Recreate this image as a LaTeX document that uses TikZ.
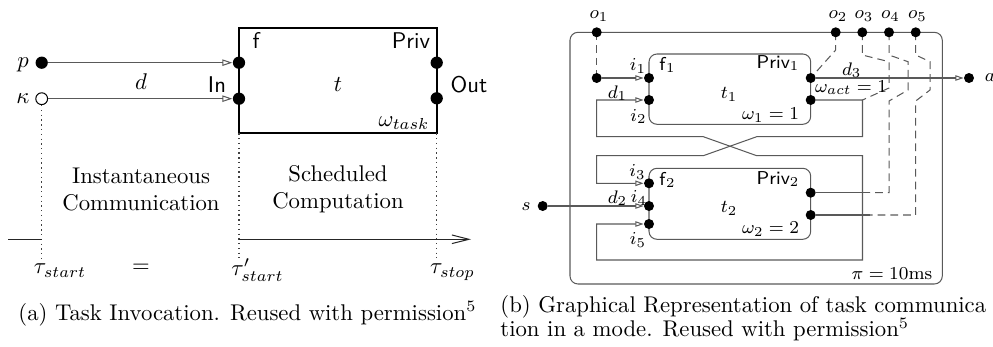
\documentclass[tikz,border=0pt]{standalone}
\usetikzlibrary{arrows.meta}
\begin{document}
\begin{tikzpicture}[x=0.44pt,y=-0.44pt,
  dotA/.style={circle,fill=black,inner sep=0pt,minimum size=5.4pt},
  odotA/.style={circle,draw=black,fill=white,inner sep=0pt,minimum size=5.2pt,line width=0.45pt},
  dotB/.style={circle,fill=black,inner sep=0pt,minimum size=4.4pt},
  conn/.style={draw=black!65,line width=0.45pt},
  tipA/.style={-{Triangle[open,length=4.4pt,width=2.8pt]}},
  tipB/.style={-{Triangle[open,length=3.6pt,width=2.4pt]}},
  dashl/.style={draw=black!65,line width=0.45pt,dash pattern=on 3.4pt off 2.2pt},
  dotl/.style={draw=black!75,line width=0.5pt,dash pattern=on 0.6pt off 1.5pt},
  lbl/.style={inner sep=0pt},
  small/.style={inner sep=0pt,font=\fontsize{8.2}{9.8}\selectfont},
  captext/.style={inner sep=0pt,anchor=base west},
]
\useasboundingbox (0,0) rectangle (993,347);

% ---------------- left panel ----------------
\draw[line width=0.9pt] (239,28.3) rectangle (436.7,133.3);
\node[dotA] (pA) at (41.7,62.7) {};
\node[odotA] (kA) at (41.7,98.7) {};
\node[dotA] (in1) at (239,62.7) {};
\node[dotA] (in2) at (239,98.7) {};
\node[dotA] (out1) at (436.7,62.7) {};
\node[dotA] (out2) at (436.7,98.3) {};
\draw[conn,tipA] (pA) -- (in1);
\draw[conn,tipA] (kA) -- (in2);

\node[lbl] (lp) at (23,65) {$p$};
\node[lbl] (lk) at (23,99) {$\kappa$};
\node[lbl] (lf) at (256.5,40.5) {\textsf{f}};
\node[lbl] (lpriv) at (411,41) {\textsf{Priv}};
\node[lbl] (lin) at (217,85) {\textsf{In}};
\node[lbl] (ld) at (141,82) {$d$};
\node[lbl] (lt) at (338,85) {$t$};
\node[lbl] (lout) at (469,85) {\textsf{Out}};
\node[lbl] (lw) at (404,123) {$\omega_{task}$};
\node[lbl,align=center] (lic) at (141,189.5) {Instantaneous\\Communication};
\node[lbl,align=center] (lsc) at (338,189.5) {Scheduled\\Computation};
\node[lbl] (lt1) at (60,270.5) {$\tau_{start}$};
\node[lbl] (leq) at (141,268) {$=$};
\node[lbl] (lt2) at (257.5,270) {$\tau'_{start}$};
\node[lbl] (lt3) at (452.5,272) {$\tau_{stop}$};

\coordinate (v1b) at (41.7,258);
\coordinate (v2t) at (239,133.3);
\coordinate (v2b) at (239,258);
\coordinate (v3t) at (436.7,133.3);
\coordinate (v3b) at (436.7,258);
\draw[dotl] (kA) -- (v1b);
\draw[dotl] (v2t) -- (v2b);
\draw[dotl] (v3t) -- (v3b);

\coordinate (tl0) at (8,239.3);
\coordinate (tl1) at (41.7,239.3);
\coordinate (tl2) at (239,239.3);
\coordinate (tl3) at (471,239.3);
\draw[draw=black!85,line width=0.45pt] (tl0) -- (tl1);
\draw[draw=black!85,line width=0.45pt,-{Straight Barb[length=7.5pt,width=3.8pt]}] (tl2) -- (tl3);

% ---------------- right panel ----------------
\draw[conn,rounded corners=3.5pt] (570,32.3) rectangle (942.3,284);
\draw[conn,rounded corners=3.5pt] (649,54) rectangle (810.7,124.3);
\draw[conn,rounded corners=3.5pt] (649,168.3) rectangle (810.7,239.3);

\coordinate (cA) at (862.5,100);
\coordinate (j4) at (870,192.7);
\coordinate (j5) at (870,215);

% dashed output lines (drawn under the dots)
\draw[dashl] (596.7,32.3) -- (596.7,78);
\draw[dashl] (835.7,32.3) -- (835.7,50) -- (810.7,78);
\draw[dashl] (862.3,32.3) -- (862.3,55) -- (889,61.7) -- (889,88) -- (cA);
\draw[dashl] (889,32.3) -- (889,55) -- (908,61.7) -- (908,90) -- (889,101) -- (889,192.7) -- (j4);
\draw[dashl] (915.7,32.3) -- (915.7,55) -- (930,61.7) -- (930,90) -- (915.7,101) -- (915.7,215) -- (j5);

\node[dotB] (o1) at (596.7,32.3) {};
\node[dotB] (o2) at (835.7,32.3) {};
\node[dotB] (o3) at (862.3,32.3) {};
\node[dotB] (o4) at (889,32.3) {};
\node[dotB] (o5) at (915.7,32.3) {};
\node[dotB] (src1) at (596.7,78) {};
\node[dotB] (i1) at (649,78) {};
\node[dotB] (i2) at (649,100) {};
\node[dotB] (t1a) at (810.7,78) {};
\node[dotB] (t1b) at (810.7,100) {};
\node[dotB] (aD) at (969,78) {};
\node[dotB] (i3) at (649,183.3) {};
\node[dotB] (i4) at (649,206) {};
\node[dotB] (i5) at (649,224) {};
\node[dotB] (t2a) at (810.7,192.7) {};
\node[dotB] (t2b) at (810.7,215) {};
\node[dotB] (sD) at (542.7,206) {};

\draw[conn,tipB] (src1) -- (i1);
\draw[conn,tipB] (t1a) -- (aD);
\draw[conn,tipB] (sD) -- (i4);
\draw[conn,tipB] (t1b) -- (cA) -- (862.5,136.7) -- (756.7,136.7) -- (703.3,155.7) -- (596.7,155.7) -- (596.7,183.3) -- (i3);
\draw[conn,{Triangle[open,length=3.6pt,width=2.4pt]}-{Triangle[open,length=3.6pt,width=2.4pt]}] (i2) -- (596.7,100) -- (596.7,136.7) -- (703.3,136.7) -- (756.7,155.7) -- (862.5,155.7) -- (862.5,260) -- (596.7,260) -- (596.7,224) -- (i5);
\draw[conn] (t2a) -- (j4);
\draw[conn] (t2b) -- (j5);

\node[small] (lo1) at (599,16) {$o_1$};
\node[small] (lo2) at (838,16) {$o_2$};
\node[small] (lo3) at (864,16) {$o_3$};
\node[small] (lo4) at (890.5,16) {$o_4$};
\node[small] (lo5) at (917.5,16) {$o_5$};
\node[small] (li1) at (638,66) {$i_1$};
\node[small] (lf1) at (667.5,65) {\textsf{f}$_1$};
\node[small] (lp1) at (778,63) {\textsf{Priv}$_1$};
\node[small] (ltt1) at (729,94.5) {$t_1$};
\node[small] (lw1) at (770.5,115) {$\omega_1 = 1$};
\node[small] (li2) at (638.5,116.7) {$i_2$};
\node[small] (ld1) at (617.5,93) {$d_1$};
\node[small] (ld3) at (851.7,70) {$d_3$};
\node[small] (lwa) at (851,88) {$\omega_{act} = 1$};
\node[small] (la) at (990,78) {$a$};
\node[small] (li3) at (637.5,172) {$i_3$};
\node[small] (lf2) at (667.5,180) {\textsf{f}$_2$};
\node[small] (lp2) at (778,179) {\textsf{Priv}$_2$};
\node[small] (ld2) at (617.5,198) {$d_2$};
\node[small] (li4) at (639,198) {$i_4$};
\node[small] (ltt2) at (729,208.3) {$t_2$};
\node[small] (lw2) at (770.5,229.3) {$\omega_2 = 2$};
\node[small] (li5) at (638,240) {$i_5$};
\node[small] (ls) at (526,206.7) {$s$};
\node[small] (lpi) at (892,274) {$\pi = 10\mathrm{ms}$};

% ---------------- captions ----------------
\node[captext] (capa) at (18,320) {(a) Task Invocation. Reused with permission$^5$};
\node[captext] (capb1) at (500,312) {(b) Graphical Representation of task communica};
\node[captext] (capb2) at (500,336.7) {tion in a mode. Reused with permission$^5$};
\end{tikzpicture}
\end{document}
